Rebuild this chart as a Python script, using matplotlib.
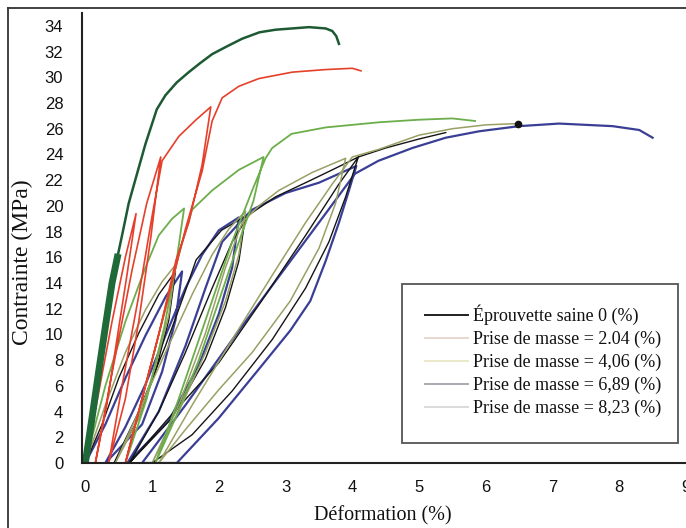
import matplotlib
matplotlib.use('Agg')
import matplotlib.pyplot as plt
from matplotlib.lines import Line2D
from matplotlib.patches import Rectangle

# ---------------- data (strain %, stress MPa) ----------------
saine_x = [0, 0.1, 0.2, 0.3, 0.4, 0.48, 0.55, 0.65, 0.78, 0.9, 1.07, 1.2, 1.37, 1.55, 1.72,
           1.9, 2.12, 2.35, 2.61, 2.85, 3.1, 3.35, 3.6, 3.7, 3.76, 3.8]
saine_y = [0, 3.5, 7.1, 10.6, 14.0, 16.0, 17.7, 20.2, 22.6, 24.8, 27.5, 28.6, 29.6, 30.4, 31.1,
           31.8, 32.4, 33.0, 33.5, 33.7, 33.8, 33.9, 33.8, 33.6, 33.2, 32.6]

m204_x = [0, 0.2, 0.4, 0.6, 0.76, 0.62, 0.47, 0.32, 0.15, 0.4, 0.7, 0.92, 1.13, 0.98, 0.8, 0.6,
          0.35, 0.55, 0.8, 1.0, 1.15, 1.4, 1.66, 1.88, 1.75, 1.55, 1.36, 1.1, 0.85, 0.6, 0.9,
          1.2, 1.5, 1.75, 1.9, 2.05, 2.3, 2.6, 3.1, 3.6, 4.0, 4.13]
m204_y = [0, 5.5, 11, 16, 19.4, 14.5, 9.5, 4.5, 0, 7, 15, 20.2, 23.8, 17.5, 11, 5,
          0, 6, 13, 19.2, 23.5, 25.4, 26.7, 27.7, 23.2, 18.7, 15.8, 10, 5, 0, 6,
          12, 18.2, 22.7, 26.6, 28.4, 29.3, 29.9, 30.4, 30.6, 30.7, 30.5]

m406_x = [0, 0.3, 0.6, 0.9, 1.1, 1.3, 1.48, 1.36, 1.18, 0.92, 0.6, 0.9, 1.2, 1.4, 1.6, 1.9,
          2.3, 2.67, 2.52, 2.3, 2.0, 1.7, 1.35, 1.05, 1.4, 1.8, 2.2, 2.5, 2.7, 2.8, 3.09,
          3.6, 4.0, 4.4, 5.0, 5.5, 5.84]
m406_y = [0, 6, 11, 15.2, 17.7, 19.0, 19.8, 15.5, 10.5, 5, 0, 6, 12, 16.2, 19.7, 21.2,
          22.8, 23.8, 20.4, 17.2, 12.6, 8, 3.5, 0, 5, 11.1, 17.2, 21.2, 23.7, 24.5, 25.6,
          26.1, 26.3, 26.5, 26.7, 26.8, 26.6]

m689_x = [0, 0.3, 0.6, 0.9, 1.15, 1.35, 1.25, 1.05, 0.8, 0.45, 0.8, 1.2, 1.6, 1.9, 2.15, 2.4,
          2.3, 2.1, 1.8, 1.4, 1.0, 1.4, 1.8, 2.1, 2.35, 2.6, 2.9, 3.4, 3.9, 3.75, 3.5, 3.07,
          2.5, 2.0, 1.5, 1.1, 1.6, 2.2, 2.8, 3.3, 3.7, 4.0, 4.4, 5.0, 5.5, 6.0, 6.48]
m689_y = [0, 4.5, 8.6, 11.9, 14.1, 15.4, 11.5, 7.5, 3.5, 0, 4, 8.6, 13.1, 16.2, 18.2, 19.6,
          16.2, 12.6, 8.6, 4, 0, 4.5, 10.1, 15.2, 18.7, 20.0, 21.2, 22.6, 23.7, 20.2, 16.7, 12.6,
          8.6, 5.7, 2.6, 0, 4.5, 9.6, 14.6, 18.7, 21.7, 23.8, 24.4, 25.5, 26.0, 26.3, 26.4]

noir_x = [0, 0.25, 0.5, 0.8, 1.1, 1.35, 1.25, 1.05, 0.8, 0.43, 0.8, 1.2, 1.5, 1.66, 2.04, 2.4,
          2.3, 2.1, 1.8, 1.3, 0.66, 1.1, 1.5, 1.9, 2.2, 2.45, 2.85, 3.3, 3.7, 4.09, 3.9, 3.65,
          3.3, 2.8, 2.2, 1.6, 1.0, 0.66, 1.3, 2.0, 2.64, 3.3, 3.8, 4.09, 4.5, 5.0, 5.4]
noir_y = [0, 3, 6.6, 10.1, 13.1, 14.9, 11.1, 7.1, 3.5, 0, 4, 9.1, 13.4, 15.8, 18.1, 19.2,
          15.7, 12.1, 8.1, 3.5, 0, 4, 8.6, 13.6, 17.2, 19.3, 20.7, 21.8, 22.8, 23.8, 20.7, 17.2,
          13.6, 9.6, 5.6, 2.2, 0, 0, 3.8, 7.8, 12.6, 17.7, 21.7, 23.8, 24.5, 25.2, 25.7]

m823_x = [0, 0.3, 0.6, 0.9, 1.2, 1.45, 1.35, 1.15, 0.85, 0.3, 0.6, 0.9, 1.2, 1.5, 1.75, 2.0,
          2.3, 2.2, 2.0, 1.7, 1.25, 0.63, 1.1, 1.5, 1.8, 2.05, 2.4, 2.5, 3.0, 3.5, 4.06, 3.95,
          3.8, 3.6, 3.37, 3.07, 2.6, 2.0, 1.37, 0.85, 1.5, 2.3, 3.0, 3.6, 4.04, 4.39, 4.9,
          5.4, 5.9, 6.5, 7.1, 7.9, 8.3, 8.5]
m823_y = [0, 3, 6.6, 9.9, 12.9, 14.9, 11.1, 7.1, 3, 0, 2.8, 6.1, 9.9, 13.6, 16.2, 18.1,
          19.1, 15.2, 11.6, 7.6, 3.3, 0, 4, 9.1, 13.6, 17.2, 19.2, 19.7, 21.0, 21.8, 23.1, 21.2,
          18.7, 15.7, 12.6, 10.3, 7.3, 3.5, 0, 0, 4.5, 10.3, 15.2, 19.4, 22.5, 23.5, 24.5,
          25.3, 25.8, 26.2, 26.4, 26.2, 25.9, 25.3]

legend_labels = ["Éprouvette saine 0 (%)", "Prise de masse = 2.04 (%)",
                 "Prise de masse = 4,06 (%)", "Prise de masse = 6,89 (%)",
                 "Prise de masse = 8,23 (%)"]
x_ticks = list(range(0, 10))
y_ticks = list(range(0, 35, 2))

# ---------------- figure ----------------
W, H = 686, 528
fig = plt.figure(figsize=(W / 100, H / 100), dpi=100)
fx = lambda px: px / W
fy = lambda py: 1 - py / H

ax = fig.add_axes([fx(82), fy(463), fx(686) - fx(82), fy(13) - fy(463)])
ax.set_xlim(-0.05, 9.0)
ax.set_ylim(0, 35)

ax.plot(m823_x, m823_y, color='#3a3f95', lw=1.6, zorder=2)
ax.plot(noir_x, noir_y, color='#151515', lw=1.0, zorder=2)
ax.plot(m689_x, m689_y, color='#9aa064', lw=1.1, zorder=2,
        marker='o', markevery=[len(m689_x) - 1], ms=4.5, mfc='#111111', mec='#111111')
ax.plot(m406_x, m406_y, color='#6cae4b', lw=1.3, zorder=2)
ax.plot(m204_x, m204_y, color='#e5402b', lw=1.2, zorder=2)
ax.plot(saine_x, saine_y, color='#1d5a34', lw=1.8, zorder=2)
ax.plot(saine_x[:6], saine_y[:6], color='#1f6a38', lw=5, zorder=2)

for s in ['top', 'right']:
    ax.spines[s].set_visible(False)
for s in ['left', 'bottom']:
    ax.spines[s].set_linewidth(1.5)
    ax.spines[s].set_color('#222222')
    ax.spines[s].set_zorder(5)

ax.set_xticks(x_ticks)
ax.set_yticks(y_ticks)
ax.tick_params(axis='both', length=0, labelsize=12)
ax.tick_params(axis='x', pad=12)
ax.tick_params(axis='y', pad=13.5)
for lab in ax.get_xticklabels() + ax.get_yticklabels():
    lab.set_family('Liberation Sans')
    lab.set_color('#111111')

fig.text(fx(22), fy(262), 'Contrainte (MPa)', rotation=90, ha='center', va='center',
         family='Liberation Serif', size=17, color='#111111')
fig.text(fx(383), fy(516), 'Déformation (%)', ha='center', va='center',
         family='Liberation Serif', size=14.5, color='#111111')

# outer frame of the scanned figure
fig.add_artist(Line2D([fx(8), fx(8)], [fy(8), fy(528)], color='#333333', lw=1.3))
fig.add_artist(Line2D([fx(8), fx(686)], [fy(8), fy(8)], color='#333333', lw=1.3))

# legend box
ax.add_patch(Rectangle((fx(402), fy(443)), fx(678) - fx(402), fy(284) - fy(443),
                       transform=fig.transFigure, fill=True, facecolor='white',
                       edgecolor='#555555', lw=1.3, zorder=6, clip_on=False))
handle_colors = ['#202020', '#e8d7cf', '#ece8c9', '#a9a9b1', '#dadada']
handles = [Line2D([], [], color=c, lw=1.4) for c in handle_colors]
leg = ax.legend(handles, legend_labels, loc='center left',
                bbox_to_anchor=(fx(425), fy(361)), bbox_transform=fig.transFigure,
                frameon=False, borderpad=0, borderaxespad=0, handlelength=2.4,
                handletextpad=0.25, labelspacing=0.32,
                prop={'family': 'Liberation Serif', 'size': 13})
leg.set_zorder(8)
for t in leg.get_texts():
    t.set_color('#111111')

fig.savefig('out.png', dpi=100)
